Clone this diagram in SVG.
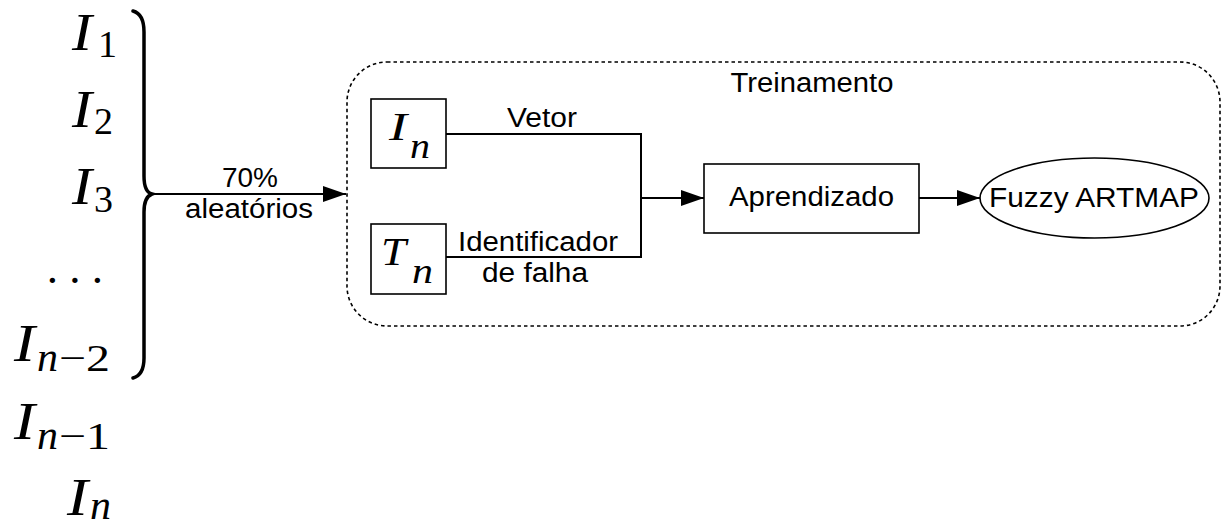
<svg xmlns="http://www.w3.org/2000/svg" width="1222" height="528" viewBox="0 0 1222 528">
<style>
.lbl{font-family:"Liberation Sans",Arial,sans-serif;font-size:27px;fill:#000;text-anchor:middle}
.m{font-family:"Liberation Serif","Times New Roman",serif;fill:#000}
.it{font-style:italic}
.big{font-size:53px;font-style:italic}
.sub{font-size:38px}
.subn{font-size:40px;font-style:italic}
.box{fill:#fff;stroke:#000;stroke-width:1.6}
.wire{fill:none;stroke:#000;stroke-width:2}
</style>
<defs>
<marker id="ah" markerWidth="24" markerHeight="16" refX="23" refY="8" orient="auto" markerUnits="userSpaceOnUse">
<path d="M0,0 L23,8 L0,16 Z" fill="#000"/>
</marker>
</defs>
<rect width="1222" height="528" fill="#fff"/>

<g id="inputs">
<g id="in-1">
<text class="m big" x="72" y="50" textLength="20" lengthAdjust="spacingAndGlyphs">I</text>
<text class="m sub" x="98" y="57">1</text>
</g>
<g id="in-2">
<text class="m big" x="72" y="127" textLength="20" lengthAdjust="spacingAndGlyphs">I</text>
<text class="m sub" x="94" y="134">2</text>
</g>
<g id="in-3">
<text class="m big" x="72" y="204" textLength="20" lengthAdjust="spacingAndGlyphs">I</text>
<text class="m sub" x="94" y="212">3</text>
</g>
<g id="in-dots">
<text class="m" x="103" y="283" text-anchor="end" font-size="45">. . .</text>
</g>
<g id="in-n-2">
<text class="m big" x="14" y="361" textLength="21" lengthAdjust="spacingAndGlyphs">I</text>
<text class="m subn" x="37" y="371" textLength="21" lengthAdjust="spacingAndGlyphs">n</text>
<text class="m sub" x="59" y="371" textLength="51" lengthAdjust="spacingAndGlyphs">−2</text>
</g>
<g id="in-n-1">
<text class="m big" x="14" y="439" textLength="21" lengthAdjust="spacingAndGlyphs">I</text>
<text class="m subn" x="37" y="449" textLength="21" lengthAdjust="spacingAndGlyphs">n</text>
<text class="m sub" x="59" y="449" textLength="51" lengthAdjust="spacingAndGlyphs">−1</text>
</g>
<g id="in-n">
<text class="m big" x="67" y="515" textLength="21" lengthAdjust="spacingAndGlyphs">I</text>
<text class="m subn" x="90" y="519" textLength="21" lengthAdjust="spacingAndGlyphs">n</text>
</g>
</g>

<g id="brace">
<path d="M133,11 Q144,14 144,32 L144,176 Q144,192 152,194 Q144,197 144,212 L144,358 Q144,375 133,378" fill="none" stroke="#000" stroke-width="3.5" stroke-linecap="round"/>
</g>

<g id="treinamento">
<rect x="347" y="62" width="873" height="264" rx="40" ry="40" fill="none" stroke="#000" stroke-width="1.6" stroke-dasharray="3.5,3"/>
<text class="lbl" x="812" y="92" textLength="163" lengthAdjust="spacingAndGlyphs">Treinamento</text>
</g>

<g id="connectors">
<line class="wire" x1="152" y1="194" x2="346" y2="194" marker-end="url(#ah)"/>
<polyline class="wire" points="446,134 641,134 641,257 446,257"/>
<line class="wire" x1="641" y1="198" x2="704" y2="198" stroke-width="3" marker-end="url(#ah)"/>
<line class="wire" x1="919" y1="198" x2="980" y2="198" marker-end="url(#ah)"/>
<text class="lbl" x="250" y="187" textLength="56" lengthAdjust="spacingAndGlyphs">70%</text>
<text class="lbl" x="249" y="218" textLength="128" lengthAdjust="spacingAndGlyphs">aleatórios</text>
<text class="lbl" x="542" y="127" textLength="70" lengthAdjust="spacingAndGlyphs">Vetor</text>
<text class="lbl" x="538" y="251" textLength="160" lengthAdjust="spacingAndGlyphs">Identificador</text>
<text class="lbl" x="535" y="282" textLength="106" lengthAdjust="spacingAndGlyphs">de falha</text>
</g>

<g id="node-In">
<rect class="box" x="371" y="99" width="75" height="69"/>
<text class="m it" x="389" y="140" font-size="41" textLength="18" lengthAdjust="spacingAndGlyphs">I</text>
<text class="m it" x="410" y="158" font-size="36" textLength="20" lengthAdjust="spacingAndGlyphs">n</text>
</g>

<g id="node-Tn">
<rect class="box" x="371" y="224" width="75" height="70"/>
<text class="m it" x="381" y="265" font-size="40" textLength="25" lengthAdjust="spacingAndGlyphs">T</text>
<text class="m it" x="412" y="283" font-size="36" textLength="21" lengthAdjust="spacingAndGlyphs">n</text>
</g>

<g id="node-aprendizado">
<rect class="box" x="704" y="164" width="215" height="69"/>
<text class="lbl" x="811.5" y="206" textLength="165" lengthAdjust="spacingAndGlyphs">Aprendizado</text>
</g>

<g id="node-fuzzy">
<ellipse cx="1094.5" cy="198" rx="114.5" ry="40" fill="#fff" stroke="#000" stroke-width="1.6"/>
<text class="lbl" x="1094" y="207" textLength="210" lengthAdjust="spacingAndGlyphs">Fuzzy ARTMAP</text>
</g>
</svg>
